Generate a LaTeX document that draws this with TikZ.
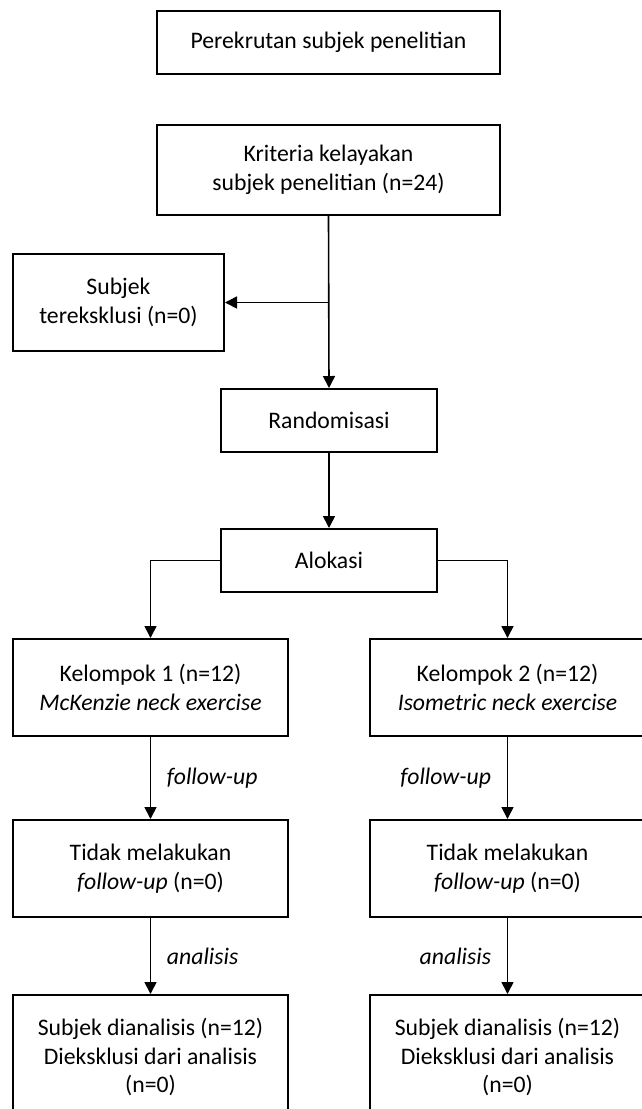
\documentclass[tikz,border=0pt]{standalone}
\usepackage{fontspec}
\setmainfont{Carlito}
\usetikzlibrary{arrows.meta}

\begin{document}
\begin{tikzpicture}[x=0.5pt, y=-0.5pt,
    font=\fontsize{11.85pt}{14.3pt}\selectfont,
    box/.style={draw, line width=1pt, align=center, inner sep=0pt},
    link/.style={line width=0.8pt, -{Triangle[length=6pt, width=6pt]}},
    tag/.style={font=\fontsize{11.85pt}{14.3pt}\selectfont\itshape}]
  \useasboundingbox (0,0) rectangle (642,1109);

  % Top of the chart
  \node[box, minimum width=171.5pt, minimum height=31.5pt] (recruit) at (328.5,42.5) {Perekrutan subjek penelitian};
  \node[box, minimum width=171.5pt, minimum height=45pt] (eligible) at (328.5,170) {Kriteria kelayakan\\subjek penelitian (n=24)};
  \node[box, minimum width=105.5pt, minimum height=48.5pt] (excluded) at (118.5,302.5) {Subjek\\tereksklusi (n=0)};
  \node[box, minimum width=108pt, minimum height=31.5pt] (random) at (329,420.5) {Randomisasi};
  \node[box, minimum width=108pt, minimum height=31.5pt] (alloc) at (329,560.5) {Alokasi};

  % Left group
  \node[box, minimum width=137.5pt, minimum height=48.5pt] (groupA) at (150.5,687.5) {Kelompok 1 (n=12)\\\textit{McKenzie neck exercise}};
  \node[box, minimum width=137.5pt, minimum height=48.5pt] (lostA) at (150.5,868.5) {Tidak melakukan\\\textit{follow-up} (n=0)};
  \node[box, minimum width=137.5pt, minimum height=62pt] (doneA) at (150.5,1057) {Subjek dianalisis (n=12)\\Dieksklusi dari analisis\\(n=0)};

  % Right group
  \node[box, minimum width=137.5pt, minimum height=48.5pt] (groupB) at (507.5,687.5) {Kelompok 2 (n=12)\\\textit{Isometric neck exercise}};
  \node[box, minimum width=137.5pt, minimum height=48.5pt] (lostB) at (507.5,868.5) {Tidak melakukan\\\textit{follow-up} (n=0)};
  \node[box, minimum width=137.5pt, minimum height=62pt] (doneB) at (507.5,1057) {Subjek dianalisis (n=12)\\Dieksklusi dari analisis\\(n=0)};

  % Connectors
  \draw[link] (eligible.south) -- (random.north);
  \draw[link] (eligible.south |- excluded.east) -- (excluded.east);
  \draw[link] (random) -- (alloc);
  \draw[link] (alloc.west) -| (groupA.north);
  \draw[link] (alloc.east) -| (groupB.north);
  \draw[link] (groupA) -- node[tag, right=4.5pt] {follow-up} (lostA);
  \draw[link] (lostA) -- node[tag, right=4.5pt] {analisis} (doneA);
  \draw[link] (groupB) -- node[tag, left=4.5pt] {follow-up} (lostB);
  \draw[link] (lostB) -- node[tag, left=4.5pt] {analisis} (doneB);
\end{tikzpicture}
\end{document}
